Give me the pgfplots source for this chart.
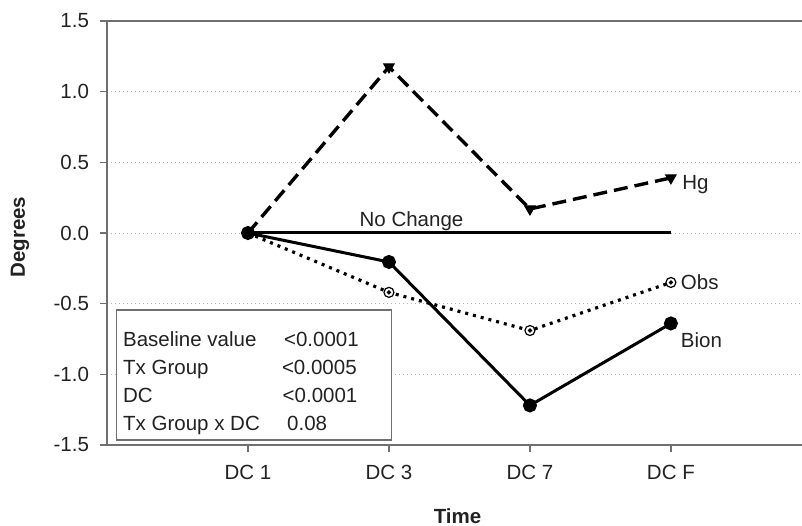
\documentclass[border=0pt]{standalone}
\usepackage{pgfplots}
\pgfplotsset{compat=1.18}
\usetikzlibrary{calc}
\usepackage{fontspec}
\setmainfont{Liberation Sans}
\definecolor{axgray}{HTML}{707070}
\definecolor{gridgray}{HTML}{B4B4B4}
\definecolor{txt}{HTML}{222222}
\pgfdeclareplotmark{odot}{%
  \pgfpathcircle{\pgfpoint{0pt}{0pt}}{\pgfplotmarksize}%
  \pgfsetfillcolor{white}\pgfusepathqfillstroke
  \pgfpathcircle{\pgfpoint{0pt}{0pt}}{0.3\pgfplotmarksize}%
  \pgfsetfillcolor{black}\pgfusepathqfillstroke}
\begin{document}
\fontsize{20.5bp}{24bp}\selectfont
\begin{tikzpicture}
\begin{axis}[name=ax,
  scale only axis, width=695bp, height=424bp,
  xmin=0, xmax=4.93, ymin=-1.5, ymax=1.5,
  axis x line*=bottom, axis y line*=left,
  axis line style={axgray, line width=1.4bp},
  tick style={axgray, line width=1.4bp},
  tick align=outside, major tick length=7bp,
  xtick={1,2,3,4}, xticklabels={DC 1,DC 3,DC 7,DC F},
  ytick={-1.5,-1,-0.5,0,0.5,1,1.5},
  /pgf/number format/assume math mode=true,
  yticklabel={\pgfmathprintnumber[fixed,fixed zerofill,precision=1]{\tick}},
  tick label style={text=txt},
  xticklabel style={yshift=-6bp},
  yticklabel style={xshift=-4bp},
  ymajorgrids, grid style={gridgray, line width=1bp, dash pattern=on 1bp off 3bp},
  xlabel={Time}, ylabel={Degrees},
  xlabel style={font=\bfseries, text=txt, at={(axis description cs:0.5,0)}, anchor=base, yshift=-78bp, xshift=3bp},
  ylabel style={font=\bfseries, text=txt, at={(axis description cs:0,0.49)}, anchor=center, yshift=87bp},
  clip=false,
]
\draw[axgray, line width=1.4bp] (rel axis cs:0,1) -- (rel axis cs:1,1);
% No change
\addplot[black, line width=3bp, mark=none] coordinates {(1,0.005) (4,0.005)};
% Hg
\addplot[black, line width=3.4bp, dash pattern=on 14bp off 7bp,
  mark=triangle*, mark size=6bp, mark options={solid, rotate=180, line width=1bp}]
  coordinates {(1,0) (2,1.175) (3,0.17) (4,0.39)};
% Obs
\addplot[black, line width=3.2bp, dash pattern=on 3bp off 5bp,
  mark=odot, mark size=5bp, mark options={solid, line width=1.2bp}]
  coordinates {(1,0) (2,-0.42) (3,-0.69) (4,-0.35)};
% Bion
\addplot[black, line width=3bp, mark=*, mark size=5.5bp]
  coordinates {(1,0) (2,-0.205) (3,-1.22) (4,-0.64)};
\node[anchor=base, text=txt] at (axis cs:2.16,0.045) {No Change};
\node[anchor=base west, text=txt, inner sep=0pt] at (axis cs:4.08,0.31) {Hg};
\node[anchor=base west, text=txt, inner sep=0pt] at (axis cs:4.07,-0.40) {Obs};
\node[anchor=base west, text=txt, inner sep=0pt] at (axis cs:4.07,-0.81) {Bion};
% box
\draw[axgray, line width=1.2bp, fill=white] (axis cs:0.07,-0.545) rectangle (axis cs:2.02,-1.465);
\node[anchor=base west, text=txt, inner sep=0pt] at (axis cs:0.113,-0.80) {Baseline value};
\node[anchor=base west, text=txt, inner sep=0pt] at (axis cs:0.113,-1.00) {Tx Group};
\node[anchor=base west, text=txt, inner sep=0pt] at (axis cs:0.113,-1.20) {DC};
\node[anchor=base west, text=txt, inner sep=0pt] at (axis cs:0.113,-1.40) {Tx Group x DC};
\node[anchor=base west, text=txt, inner sep=0pt] at (axis cs:1.255,-0.80) {<0.0001};
\node[anchor=base west, text=txt, inner sep=0pt] at (axis cs:1.24,-1.00) {<0.0005};
\node[anchor=base west, text=txt, inner sep=0pt] at (axis cs:1.245,-1.20) {<0.0001};
\node[anchor=base west, text=txt, inner sep=0pt] at (axis cs:1.277,-1.40) {0.08};
\end{axis}
\pgfresetboundingbox
\path[use as bounding box] ($(ax.south west)+(-107bp,-81bp)$) rectangle ($(ax.north east)+(0bp,21bp)$);
\end{tikzpicture}
\end{document}
